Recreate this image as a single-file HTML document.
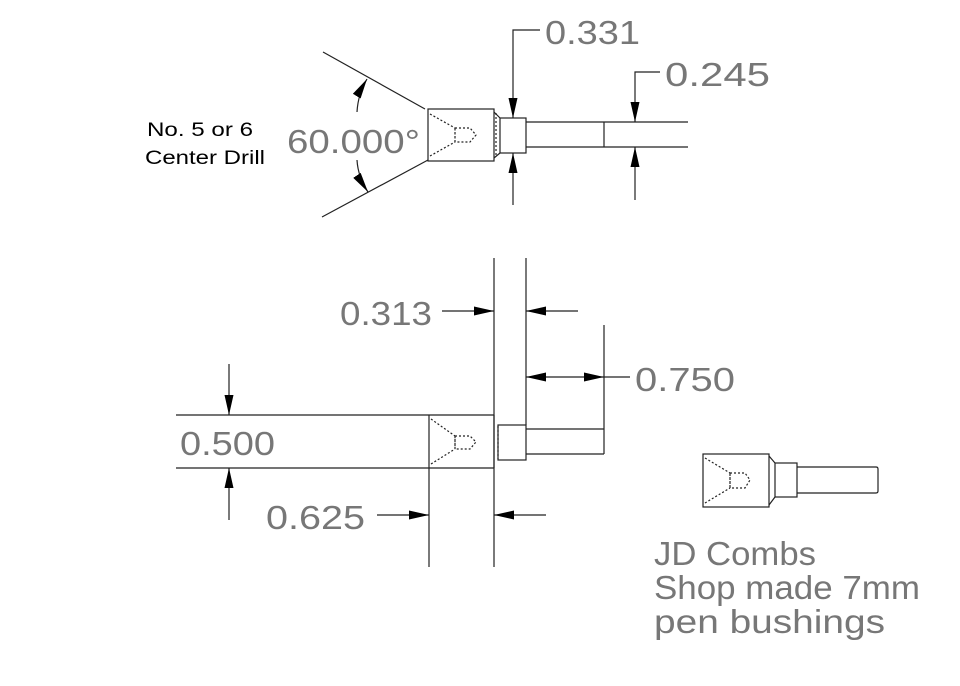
<!DOCTYPE html>
<html><head><meta charset="utf-8"><style>html,body{margin:0;padding:0;background:#fff}svg{display:block}</style></head>
<body>
<svg width="960" height="686" viewBox="0 0 960 686" xmlns="http://www.w3.org/2000/svg">
<defs>
<marker id="a" viewBox="0 0 10 10" refX="10" refY="5" markerWidth="20" markerHeight="9" markerUnits="userSpaceOnUse" orient="auto" preserveAspectRatio="none"><path d="M0,0 L10,5 L0,10 Z" fill="#000"/></marker>
</defs>
<g stroke="#222" stroke-width="1.2" fill="none">
<line x1="323" y1="52" x2="425" y2="109"/>
<line x1="322" y1="217" x2="428" y2="160"/>
<rect x="428" y="109" width="66" height="52"/>
<rect x="500" y="118" width="26" height="35"/>
<path d="M494,112 L500,118 M494,158 L500,153" />
<line x1="496" y1="113" x2="496" y2="157" stroke-dasharray="2,2"/>
<path d="M526,122 H688 M526,147 H688 M604,122 V147"/>
<path d="M430,114 L455,128 M430,156 L455,142" stroke-dasharray="2,2"/>
<path d="M455,128 H470 L476,135 L470,142 H455 Z M455,128 V142" stroke-dasharray="2,2"/>
<path d="M540,30 H513 V118" marker-end="url(#a)"/>
<path d="M513,205 V153" marker-end="url(#a)"/>
<path d="M660,72 H635 V122" marker-end="url(#a)"/>
<path d="M635,200 V147" marker-end="url(#a)"/>
<path d="M357,112 Q358,94 367,79" marker-end="url(#a)"/>
<path d="M357,160 Q358,177 368,192" marker-end="url(#a)"/>
<path d="M176,415 H494 M176,468 H494 M494,415 V468"/>
<line x1="494" y1="258" x2="494" y2="567"/>
<line x1="526" y1="258" x2="526" y2="425"/>
<line x1="604" y1="325" x2="604" y2="454"/>
<line x1="429" y1="415" x2="429" y2="567"/>
<rect x="498" y="425" width="28" height="35"/>
<line x1="498" y1="426" x2="498" y2="459" stroke-dasharray="2,2"/>
<path d="M526,429 H604 M526,454 H604"/>
<path d="M431,419 L455,436 M431,464 L455,449" stroke-dasharray="2,2"/>
<path d="M455,436 H470 L476,442 L470,449 H455 Z M455,436 V449" stroke-dasharray="2,2"/>
<path d="M442,311 H494" marker-end="url(#a)"/>
<path d="M578,311 H526" marker-end="url(#a)"/>
<path d="M565,377 H526" marker-end="url(#a)"/>
<path d="M565,377 H604" marker-end="url(#a)"/>
<line x1="604" y1="377" x2="630" y2="377"/>
<path d="M229,364 V415" marker-end="url(#a)"/>
<path d="M229,520 V468" marker-end="url(#a)"/>
<path d="M377,515 H429" marker-end="url(#a)"/>
<path d="M546,515 H494" marker-end="url(#a)"/>
<rect x="703" y="454" width="66" height="53"/>
<path d="M769,456 L775,463 M769,505 L775,497"/>
<rect x="775" y="463" width="22" height="34"/>
<path d="M797,467 H876 Q878,467 878,469 V491 Q878,493 876,493 H797"/>
<path d="M705,458 L730,473 M705,503 L730,488" stroke-dasharray="2,2"/>
<path d="M730,473 H745 L750,480 L745,488 H730 Z M730,473 V488" stroke-dasharray="2,2"/>
</g>
<g font-family="Liberation Sans, sans-serif" fill="#777" font-size="33">
<text x="545" y="44" textLength="95" lengthAdjust="spacingAndGlyphs">0.331</text>
<text x="665" y="86" textLength="105" lengthAdjust="spacingAndGlyphs">0.245</text>
<text x="287" y="153" textLength="133" lengthAdjust="spacingAndGlyphs">60.000°</text>
<text x="340" y="325" textLength="92" lengthAdjust="spacingAndGlyphs">0.313</text>
<text x="635" y="391" textLength="100" lengthAdjust="spacingAndGlyphs">0.750</text>
<text x="180" y="455" textLength="95" lengthAdjust="spacingAndGlyphs">0.500</text>
<text x="266" y="529" textLength="99" lengthAdjust="spacingAndGlyphs">0.625</text>
<text x="654" y="565" textLength="162" lengthAdjust="spacingAndGlyphs">JD Combs</text>
<text x="654" y="599" textLength="266" lengthAdjust="spacingAndGlyphs">Shop made 7mm</text>
<text x="654" y="633" textLength="231" lengthAdjust="spacingAndGlyphs">pen bushings</text>
</g>
<g font-family="Liberation Sans, sans-serif" fill="#000" font-size="19">
<text x="147" y="136" textLength="106" lengthAdjust="spacingAndGlyphs">No. 5 or 6</text>
<text x="145" y="164" textLength="120" lengthAdjust="spacingAndGlyphs">Center Drill</text>
</g>
</svg>
</body></html>
